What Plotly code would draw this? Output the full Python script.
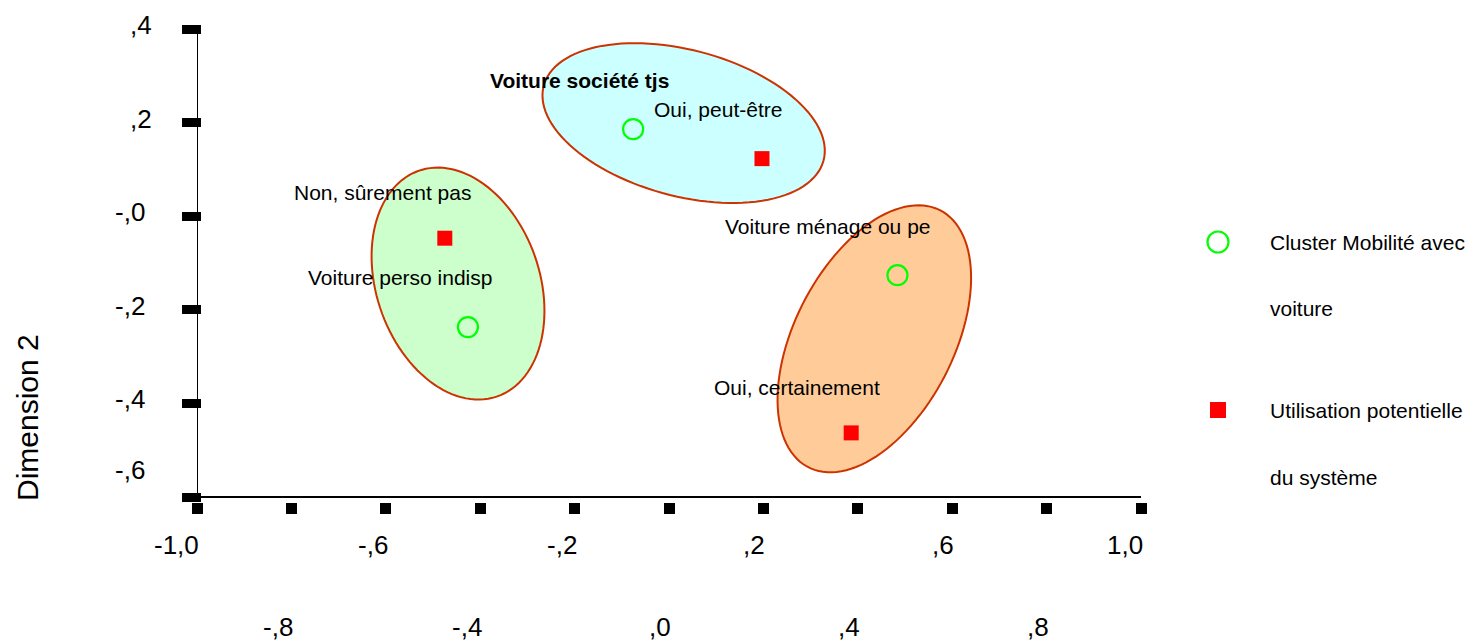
import numpy as np
import plotly.graph_objects as go

# ---------------- data ----------------
cluster_names = ["Voiture société tjs", "Voiture perso indisp", "Voiture ménage ou pe"]
cluster_x = [-0.076, -0.426, 0.484]
cluster_y = [0.186, -0.237, -0.126]

usage_names = ["Oui, peut-être", "Non, sûrement pas", "Oui, certainement"]
usage_x = [0.197, -0.475, 0.386]
usage_y = [0.123, -0.047, -0.463]

# label anchor positions (data units)
cluster_label_x = [-0.189, -0.569, 0.336]
cluster_label_y = [0.291, -0.132, -0.023]
usage_label_x = [0.103, -0.606, 0.272]
usage_label_y = [0.227, 0.050, -0.367]

# ellipses: centre x, centre y, semi-major, semi-minor, angle (deg)
ell_cx = [0.031, -0.447, 0.435]
ell_cy = [0.199, -0.144, -0.262]
ell_a = [0.307, 0.255, 0.308]
ell_b = [0.156, 0.173, 0.169]
ell_ang = [-15.2, -71.3, 63.2]
ell_fill = ["#CCFFFF", "#CCFFCC", "#FFCC99"]

x_ticks = [-1.0, -0.8, -0.6, -0.4, -0.2, 0.0, 0.2, 0.4, 0.6, 0.8, 1.0]
x_tick_text = ["-1,0", "-,8", "-,6", "-,4", "-,2", ",0", ",2", ",4", ",6", ",8", "1,0"]
y_ticks = [0.4, 0.2, 0.0, -0.2, -0.4, -0.6]
y_tick_text = [",4", ",2", "-,0", "-,2", "-,4", "-,6"]

legend_lines = [["Cluster Mobilité avec", "voiture"], ["Utilisation potentielle", "du système"]]
y_title = "Dimension 2"

# ---------------- layout constants (screen pixels, page has 8px body margin) ----------------
OFF = 8
W, H = 1466, 633
ML = 197 - OFF
MT = 29 - OFF
PLOT_BOTTOM = 502 - OFF
PLOT_RIGHT = 1141 - OFF
MR = W - PLOT_RIGHT
MB = H - PLOT_BOTTOM
PW = W - ML - MR
PH = H - MT - MB
FONT = "Liberation Sans, Arial, sans-serif"
EDGE = "#CC3300"


def px_x(p):
    return (p - OFF - ML) / PW


def px_y(p):
    return (PLOT_BOTTOM - (p - OFF)) / PH


def ellipse_path(cx, cy, a, b, ang, n=120):
    t = np.linspace(0, 2 * np.pi, n)
    th = np.deg2rad(ang)
    xs = cx + a * np.cos(t) * np.cos(th) - b * np.sin(t) * np.sin(th)
    ys = cy + a * np.cos(t) * np.sin(th) + b * np.sin(t) * np.cos(th)
    d = "M " + " L ".join(f"{x:.5f},{y:.5f}" for x, y in zip(xs, ys)) + " Z"
    return d


fig = go.Figure()

fig.add_trace(go.Scatter(
    x=cluster_x, y=cluster_y, mode="markers", name=" ".join(legend_lines[0]),
    marker=dict(symbol="circle-open", size=20, color="#00FF00", line=dict(width=2.2, color="#00FF00")),
    showlegend=False, hoverinfo="skip"))
fig.add_trace(go.Scatter(
    x=usage_x, y=usage_y, mode="markers", name=" ".join(legend_lines[1]),
    marker=dict(symbol="square", size=15, color="#FF0000", line=dict(width=0)),
    showlegend=False, hoverinfo="skip"))

shapes = []
for cx, cy, a, b, ang, fc in zip(ell_cx, ell_cy, ell_a, ell_b, ell_ang, ell_fill):
    shapes.append(dict(type="path", xref="x", yref="y", path=ellipse_path(cx, cy, a, b, ang),
                       fillcolor=fc, line=dict(color=EDGE, width=2), layer="below"))
# axis lines
shapes.append(dict(type="line", xref="x", yref="y", x0=x_ticks[0], x1=x_ticks[-1] + 0.004,
                   y0=y_ticks[-1], y1=y_ticks[-1], line=dict(color="black", width=2)))
shapes.append(dict(type="line", xref="x", yref="y", x0=x_ticks[0], x1=x_ticks[0],
                   y0=y_ticks[-1], y1=y_ticks[0], line=dict(color="black", width=2)))
# legend symbols
shapes.append(dict(type="circle", xref="paper", yref="paper", xsizemode="pixel", ysizemode="pixel",
                   xanchor=px_x(1218), yanchor=px_y(242), x0=-10.5, x1=10.5, y0=-10.5, y1=10.5,
                   line=dict(color="#00FF00", width=2.2), fillcolor="rgba(0,0,0,0)"))
shapes.append(dict(type="rect", xref="paper", yref="paper", xsizemode="pixel", ysizemode="pixel",
                   xanchor=px_x(1218), yanchor=px_y(410), x0=-8, x1=8, y0=-8, y1=8,
                   line=dict(width=0), fillcolor="#FF0000"))

ann = []
lab_font = dict(family=FONT, size=21, color="black")
for i, (t, x, y) in enumerate(zip(cluster_names, cluster_label_x, cluster_label_y)):
    txt = f"<b>{t}</b>" if i == 0 else t
    ann.append(dict(x=x, y=y, xref="x", yref="y", text=txt, showarrow=False,
                    xanchor="center", yanchor="middle", font=lab_font))
for t, x, y in zip(usage_names, usage_label_x, usage_label_y):
    ann.append(dict(x=x, y=y, xref="x", yref="y", text=t, showarrow=False,
                    xanchor="center", yanchor="middle", font=lab_font))

tick_font = dict(family=FONT, size=26, color="black")
# x tick labels, alternating rows
for i, (v, t) in enumerate(zip(x_ticks, x_tick_text)):
    row_px = 545 if i % 2 == 0 else 627
    ann.append(dict(x=v, y=0, xref="x", yref="paper", text=t, showarrow=False,
                    xanchor="right", yanchor="middle", xshift=4, yshift=-(row_px - 502),
                    font=tick_font))
# y tick labels
for i, (v, t) in enumerate(zip(y_ticks, y_tick_text)):
    right_px = 147 if t.startswith("-") else 154
    shift = 27 if i == len(y_ticks) - 1 else 4
    ann.append(dict(x=0, y=v, xref="paper", yref="y", text=t, showarrow=False,
                    xanchor="right", yanchor="middle", xshift=right_px - 197, yshift=shift,
                    font=tick_font))
# y title
ann.append(dict(x=0, y=px_y(418), xref="paper", yref="paper", text=y_title, showarrow=False,
                textangle=-90, xanchor="center", yanchor="middle", xshift=27 - 197,
                font=dict(family=FONT, size=30, color="black")))
# legend text
leg_font = dict(family=FONT, size=21, color="black")
for lines, ys in zip(legend_lines, [(242, 308), (410, 477)]):
    for line, yp in zip(lines, ys):
        ann.append(dict(x=px_x(1268), y=px_y(yp), xref="paper", yref="paper", text=line,
                        showarrow=False, xanchor="left", yanchor="middle", font=leg_font))

fig.update_layout(
    width=W, height=H,
    margin=dict(l=ML, r=MR, t=MT, b=MB, pad=0),
    paper_bgcolor="white", plot_bgcolor="white",
    showlegend=False,
    shapes=shapes, annotations=ann,
    xaxis=dict(range=[-1.0, 1.0], showgrid=False, zeroline=False, showline=False,
               ticks="outside", ticklen=11, tickwidth=11, tickcolor="black",
               tickvals=x_ticks, showticklabels=False, fixedrange=True),
    yaxis=dict(range=[-0.6 - 5 / 468, 0.4], showgrid=False, zeroline=False, showline=False,
               anchor="free", position=4 / PW,
               ticks="outside", ticklen=19, tickwidth=9, tickcolor="black",
               tickvals=y_ticks, showticklabels=False, fixedrange=True),
)

fig.write_html("out.html")
